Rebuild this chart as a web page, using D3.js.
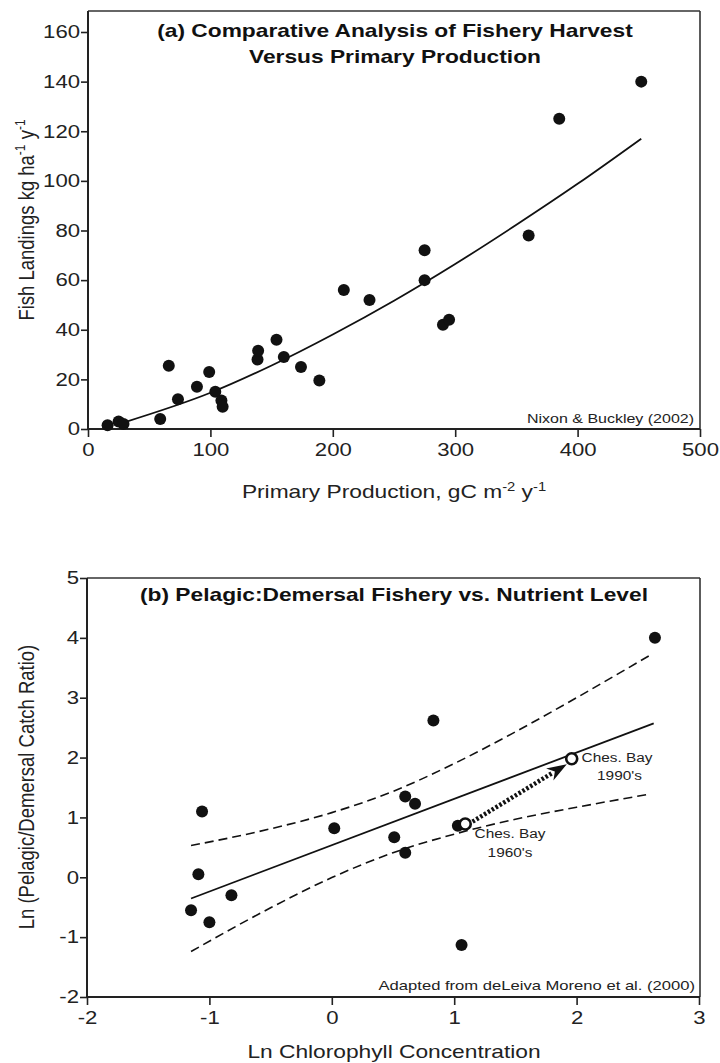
<!DOCTYPE html>
<html>
<head>
<meta charset="utf-8">
<script src="https://cdn.jsdelivr.net/npm/d3@7"></script>
<style>
  html, body { margin: 0; padding: 0; background: #fff; }
  svg { display: block; font-family: "Liberation Sans", Arial, Helvetica, sans-serif; }
</style>
</head>
<body>
<svg id="chart" width="720" height="1063"></svg>
<script>
// ---------- Panel (a) data ----------
const prodX   = [16, 25, 29, 59, 66, 73.5, 89, 99, 104, 109, 110, 138.5, 139, 154, 160, 174, 189, 209, 230, 275, 275, 290, 295, 360, 385, 452];
const landY   = [1.5, 3, 2, 4, 25.5, 12, 17, 23, 15, 11.5, 9, 28, 31.5, 36, 29, 25, 19.5, 56, 52, 72, 60, 42, 44, 78, 125, 140];
const fitAX   = [29, 100, 150, 200, 250, 300, 350, 400, 452];
const fitAY   = [2.6, 14.6, 25.6, 38.1, 51.7, 66.5, 82.3, 98.8, 117];
const xTicksA = [0, 100, 200, 300, 400, 500];
const yTicksA = [0, 20, 40, 60, 80, 100, 120, 140, 160];

// ---------- Panel (b) data ----------
const chlX    = [-1.06, -1.09, -1.15, -1.0, -0.82, 0.02, 0.6, 0.68, 0.51, 0.6, 1.03, 1.06, 0.83, 2.64];
const ratioY  = [1.1, 0.05, -0.55, -0.75, -0.3, 0.82, 1.35, 1.23, 0.67, 0.41, 0.86, -1.13, 2.62, 4.0];
const chesX   = [1.09, 1.96];
const chesY   = [0.89, 1.98];
const chesLab = [["Ches. Bay", "1960's"], ["Ches. Bay", "1990's"]];
const regX    = [-1.15, 2.63];
const regY    = [-0.354, 2.572];
const bandX   = [-1.15, -0.5, 0, 0.5, 1, 1.5, 2, 2.6];
const bandUp  = [0.53, 0.81, 1.08, 1.435, 1.90, 2.43, 3.00, 3.71];
const bandLo  = [-1.24, -0.51, -0.005, 0.41, 0.72, 0.97, 1.17, 1.39];
const arrowX  = [1.15, 1.92];
const arrowY  = [0.93, 1.89];
const xTicksB = [-2, -1, 0, 1, 2, 3];
const yTicksB = [-2, -1, 0, 1, 2, 3, 4, 5];

const svg = d3.select("#chart");
const ink = "#111";
const SX = 1.23;   // horizontal glyph stretch seen in the reference

function stretch(sel, ax, ay) {
  sel.attr("transform", `translate(${ax},${ay}) scale(${SX},1) translate(${-ax},${-ay})`);
  return sel;
}
const fmt = d => String(d);

function axisStyle(g) {
  g.selectAll("path.domain").remove();
  g.selectAll("line").attr("stroke", "#222").attr("stroke-width", 1.6);
  g.selectAll("text").attr("fill", "#222").attr("font-size", 18)
    .attr("font-family", "'Liberation Sans', Arial, sans-serif")
    .each(function () {
      const t = d3.select(this);
      const ax = +t.attr("x") || 0;
      const ay = +t.attr("y") || 0;
      stretch(t, ax, ay);
    });
}

// =================== Panel (a) ===================
{
  const L = 88, R = 700, T = 11, B = 429;
  const x = d3.scaleLinear().domain([0, 500]).range([L, R]);
  const y = d3.scaleLinear().domain([0, 160]).range([B, 32]);
  const g = svg.append("g");

  g.append("line").attr("x1", L).attr("x2", R).attr("y1", T).attr("y2", T).attr("stroke", "#333").attr("stroke-width", 1.6);
  g.append("line").attr("x1", R).attr("x2", R).attr("y1", T).attr("y2", B).attr("stroke", "#333").attr("stroke-width", 1.6);
  g.append("line").attr("x1", L).attr("x2", L).attr("y1", T).attr("y2", B).attr("stroke", "#222").attr("stroke-width", 2);
  g.append("line").attr("x1", L).attr("x2", R).attr("y1", B).attr("y2", B).attr("stroke", "#222").attr("stroke-width", 2);

  g.append("g").attr("transform", `translate(0,${B})`)
    .call(d3.axisBottom(x).tickValues(xTicksA).tickSize(8).tickPadding(6).tickFormat(fmt))
    .call(axisStyle);
  g.append("g").attr("transform", `translate(${L},0)`)
    .call(d3.axisLeft(y).tickValues(yTicksA).tickSize(7).tickPadding(1).tickFormat(fmt))
    .call(axisStyle);

  g.append("path")
    .datum(fitAX.map((d, i) => [d, fitAY[i]]))
    .attr("d", d3.line().x(d => x(d[0])).y(d => y(d[1])).curve(d3.curveMonotoneX))
    .attr("fill", "none").attr("stroke", ink).attr("stroke-width", 1.8);

  g.selectAll("circle.pt").data(prodX.map((d, i) => [d, landY[i]])).enter()
    .append("circle").attr("class", "pt")
    .attr("cx", d => x(d[0])).attr("cy", d => y(d[1])).attr("r", 6).attr("fill", ink);

  const t = g.append("text").attr("text-anchor", "middle").attr("font-weight", "bold")
    .attr("font-size", 18.5).attr("fill", ink);
  t.append("tspan").attr("x", 395).attr("y", 37).text("(a) Comparative Analysis of Fishery Harvest");
  t.append("tspan").attr("x", 395).attr("y", 63).text("Versus Primary Production");
  stretch(t, 395, 0);

  const cr = g.append("text").attr("x", 694).attr("y", 423).attr("text-anchor", "end")
    .attr("font-size", 13).attr("fill", "#222").text("Nixon & Buckley (2002)");
  stretch(cr, 694, 423);

  const xl = g.append("text").attr("x", 394).attr("y", 498).attr("text-anchor", "middle")
    .attr("font-size", 18.5).attr("fill", "#222");
  xl.append("tspan").text("Primary Production, gC m");
  xl.append("tspan").attr("font-size", 12).attr("dy", -7).text("-2");
  xl.append("tspan").attr("dy", 7).text(" y");
  xl.append("tspan").attr("font-size", 12).attr("dy", -7).text("-1");
  stretch(xl, 394, 498);

  const yl = g.append("text").attr("transform", `translate(34,220) scale(${SX},1) rotate(-90)`)
    .attr("text-anchor", "middle").attr("font-size", 18.5).attr("fill", "#222");
  yl.append("tspan").text("Fish Landings kg ha");
  yl.append("tspan").attr("font-size", 12).attr("dy", -7).text("-1");
  yl.append("tspan").attr("dy", 7).text(" y");
  yl.append("tspan").attr("font-size", 12).attr("dy", -7).text("-1");
}

// =================== Panel (b) ===================
{
  const L = 87, R = 700, T = 578, B = 997;
  const x = d3.scaleLinear().domain([-2, 3]).range([L, 699]);
  const y = d3.scaleLinear().domain([-2, 5]).range([B, T]);
  const g = svg.append("g");

  g.append("line").attr("x1", L).attr("x2", R).attr("y1", T).attr("y2", T).attr("stroke", "#333").attr("stroke-width", 1.6);
  g.append("line").attr("x1", R).attr("x2", R).attr("y1", T).attr("y2", B).attr("stroke", "#333").attr("stroke-width", 1.6);
  g.append("line").attr("x1", L).attr("x2", L).attr("y1", T).attr("y2", B).attr("stroke", "#222").attr("stroke-width", 2);
  g.append("line").attr("x1", L).attr("x2", R).attr("y1", B).attr("y2", B).attr("stroke", "#222").attr("stroke-width", 2);

  g.append("g").attr("transform", `translate(0,${B})`)
    .call(d3.axisBottom(x).tickValues(xTicksB).tickSize(8).tickPadding(6).tickFormat(fmt))
    .call(axisStyle);
  g.append("g").attr("transform", `translate(${L},0)`)
    .call(d3.axisLeft(y).tickValues(yTicksB).tickSize(7).tickPadding(1).tickFormat(fmt))
    .call(axisStyle);

  const line = d3.line().x(d => x(d[0])).y(d => y(d[1]));
  const lineC = d3.line().x(d => x(d[0])).y(d => y(d[1])).curve(d3.curveMonotoneX);

  [bandUp, bandLo].forEach(arr => {
    g.append("path").datum(bandX.map((d, i) => [d, arr[i]]))
      .attr("d", lineC).attr("fill", "none").attr("stroke", ink)
      .attr("stroke-width", 1.6).attr("stroke-dasharray", "9,5");
  });
  g.append("path").datum(regX.map((d, i) => [d, regY[i]]))
    .attr("d", line).attr("fill", "none").attr("stroke", ink).attr("stroke-width", 1.8);

  g.selectAll("circle.pt").data(chlX.map((d, i) => [d, ratioY[i]])).enter()
    .append("circle").attr("class", "pt")
    .attr("cx", d => x(d[0])).attr("cy", d => y(d[1])).attr("r", 6).attr("fill", ink);

  const ax0 = x(arrowX[0]), ay0 = y(arrowY[0]), ax1 = x(arrowX[1]), ay1 = y(arrowY[1]);
  const ang = Math.atan2(ay1 - ay0, ax1 - ax0);
  const hl = 20, hw = 7;
  const bx = ax1 - hl * Math.cos(ang), by = ay1 - hl * Math.sin(ang);
  g.append("line").attr("x1", ax0).attr("y1", ay0).attr("x2", bx + 4 * Math.cos(ang)).attr("y2", by + 4 * Math.sin(ang))
    .attr("stroke", ink).attr("stroke-width", 4.5).attr("stroke-dasharray", "2.5,2");
  const nx = -Math.sin(ang), ny = Math.cos(ang);
  const ix = ax1 - hl * 0.7 * Math.cos(ang), iy = ay1 - hl * 0.7 * Math.sin(ang);
  g.append("path")
    .attr("d", `M${ax1},${ay1} L${bx + hw * nx},${by + hw * ny} L${ix},${iy} L${bx - hw * nx},${by - hw * ny} Z`)
    .attr("fill", ink);

  g.selectAll("circle.ches").data(chesX.map((d, i) => [d, chesY[i]])).enter()
    .append("circle").attr("class", "ches")
    .attr("cx", d => x(d[0])).attr("cy", d => y(d[1])).attr("r", 5.5)
    .attr("fill", "#fff").attr("stroke", ink).attr("stroke-width", 2.6);

  const lab1 = g.append("text").attr("text-anchor", "middle").attr("font-size", 12.5).attr("fill", "#222");
  lab1.append("tspan").attr("x", 510).attr("y", 838).text(chesLab[0][0]);
  lab1.append("tspan").attr("x", 510).attr("y", 857).text(chesLab[0][1]);
  stretch(lab1, 510, 0);
  const lab2 = g.append("text").attr("text-anchor", "middle").attr("font-size", 12.5).attr("fill", "#222");
  lab2.append("tspan").attr("x", 617).attr("y", 762).text(chesLab[1][0]);
  lab2.append("tspan").attr("x", 619).attr("y", 780).text(chesLab[1][1]);
  stretch(lab2, 617, 0);

  const tt = g.append("text").attr("x", 394).attr("y", 601).attr("text-anchor", "middle")
    .attr("font-weight", "bold").attr("font-size", 18.5).attr("fill", ink)
    .text("(b) Pelagic:Demersal Fishery vs. Nutrient Level");
  stretch(tt, 394, 601);

  const cr = g.append("text").attr("x", 695).attr("y", 990).attr("text-anchor", "end")
    .attr("font-size", 13.5).attr("fill", "#222").text("Adapted from deLeiva Moreno et al. (2000)");
  stretch(cr, 695, 990);

  const xl = g.append("text").attr("x", 394).attr("y", 1058).attr("text-anchor", "middle")
    .attr("font-size", 18.5).attr("fill", "#222").text("Ln Chlorophyll Concentration");
  stretch(xl, 394, 1058);
  g.append("text").attr("transform", `translate(34,787) scale(${SX},1) rotate(-90)`)
    .attr("text-anchor", "middle").attr("font-size", 18.5).attr("fill", "#222")
    .text("Ln (Pelagic/Demersal Catch Ratio)");
}
</script>
</body>
</html>
